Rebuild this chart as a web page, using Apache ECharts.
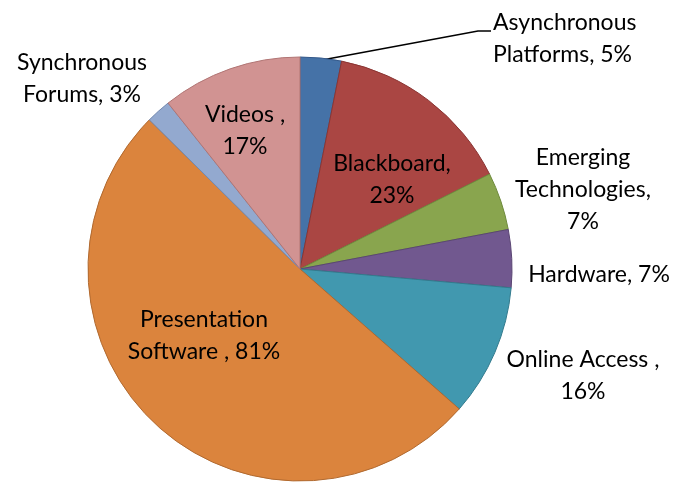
<!DOCTYPE html>
<html>
<head>
<meta charset="utf-8">
<script src="https://cdn.jsdelivr.net/npm/echarts@6/dist/echarts.min.js"></script>
<style>
  html, body { margin: 0; padding: 0; background: #fff; }
  #chart { width: 678px; height: 483px; }
</style>
</head>
<body>
<div id="chart"></div>
<script>
// slices, clockwise from 12 o'clock
var categories = ['Asynchronous Platforms', 'Blackboard', 'Emerging Technologies', 'Hardware',
    'Online Access', 'Presentation Software', 'Synchronous Forums', 'Videos'];
var values = [5, 23, 7, 7, 16, 81, 3, 17];
var labelTexts = [
    'Asynchronous\nPlatforms, {c}%',
    'Blackboard,\n{c}%',
    'Emerging\nTechnologies,\n{c}%',
    'Hardware, {c}%',
    'Online Access ,\n{c}%',
    'Presentation\nSoftware , {c}%',
    'Synchronous\nForums, {c}%',
    'Videos ,\n{c}%'
];

var colors = ['#4572A7', '#AA4643', '#89A54E', '#71588F', '#4198AF', '#DB843D', '#93A9CF', '#D19392'];
var borders = ['#35598a', '#8a3533', '#6e8a3c', '#5a4573', '#327a8d', '#b0692f', '#7389b0', '#b07473'];

// label anchor positions (px)
var labelPos = [
    {x: 493, y: 39, align: 'left'},
    {x: 392, y: 180, align: 'center'},
    {x: 583, y: 190, align: 'center'},
    {x: 599, y: 275, align: 'center'},
    {x: 583, y: 376, align: 'center'},
    {x: 204, y: 336, align: 'center'},
    {x: 82, y: 79, align: 'center'},
    {x: 245, y: 131, align: 'center'}
];

var chart = echarts.init(document.getElementById('chart'));

var data = categories.map(function (name, i) {
    return {
        name: name,
        value: values[i],
        itemStyle: {color: colors[i], borderColor: borders[i], borderWidth: 1},
        label: {formatter: labelTexts[i]},
        labelLine: {show: i === 0}
    };
});

chart.setOption({
    animation: false,
    series: [{
        type: 'pie',
        center: [300, 269],
        radius: 212,
        startAngle: 90,
        clockwise: true,
        avoidLabelOverlap: false,
        label: {
            show: true,
            position: 'outside',
            color: '#000',
            fontFamily: 'Lato',
            fontSize: 23,
            lineHeight: 32
        },
        labelLine: {
            lineStyle: {color: '#000', width: 1.5}
        },
        labelLayout: function (params) {
            var p = labelPos[params.dataIndex];
            var out = {x: p.x, y: p.y, align: p.align, verticalAlign: 'middle'};
            if (params.dataIndex === 0) {
                out.labelLinePoints = [[322, 60], [478, 31], [491, 31]];
            }
            return out;
        },
        data: data
    }]
});
</script>
</body>
</html>
